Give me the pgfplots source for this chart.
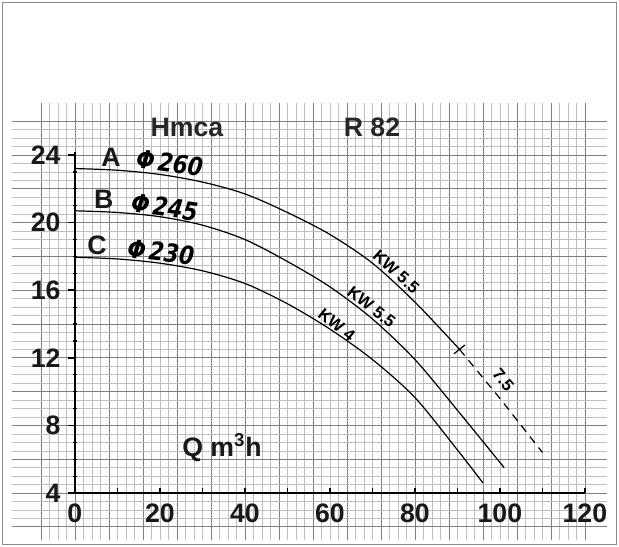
\documentclass[border=0pt]{standalone}
\usepackage{fontspec}
\setmainfont{Liberation Sans}
\newfontfamily\phifont{DejaVu Sans}
\usepackage{graphicx}
\usepackage{pgfplots}
\pgfplotsset{compat=1.18}
\newcommand{\bigfont}{\fontsize{20}{20}\selectfont\bfseries}
\newcommand{\kwfont}{\fontsize{12.5}{12.5}\selectfont\bfseries}
\newcommand{\phitxt}[1]{\scalebox{0.85}[1]{\fontsize{19}{19}\selectfont\phifont\bfseries\itshape\,Φ\,#1}}
\begin{document}
\begin{tikzpicture}[x=0.75pt,y=0.75pt]
\path[use as bounding box] (-12,-7) rectangle (607,540);
\draw[black!45, line width=0.75pt] (-9,-5) rectangle (604,537);
\begin{axis}[
  at={(0,0)}, anchor=south west,
  x=3.1875pt, y=12.675pt,
  xmin=-14.8, xmax=125.2, ymin=1.22, ymax=27.08,
  axis line style={draw=none},
  xtick={-8,0,...,120}, ytick={2,4,...,26},
  minor x tick num=3, minor y tick num=3,
  xticklabels={}, yticklabels={},
  major tick length=0pt, minor tick length=0pt,
  grid=both,
  major grid style={black!50, line width=0.55pt},
  minor grid style={black!25, line width=0.35pt},
  clip=false,
]
% axes
\addplot[black, line width=1.8pt] coordinates {(0,4) (120,4)};
\addplot[black, line width=1.8pt] coordinates {(0,4) (0,24.15)};
\pgfplotsinvokeforeach{10,20,...,120}{\draw[black, line width=1pt] (axis cs:#1,4) -- ++(0pt,4pt);}
\pgfplotsinvokeforeach{5,6,7,9,10,11,13,14,15,17,18,19,21,22,23}{\draw[black, line width=0.9pt] (axis cs:0,#1) ++(-1.5pt,0pt) -- ++(3pt,0pt);}
\pgfplotsinvokeforeach{4,8,...,24}{\draw[black, line width=1.2pt] (axis cs:0,#1) -- ++(-5pt,0pt);}
\pgfplotsinvokeforeach{0,20,...,120}{\node[font=\bigfont, text=black!90, anchor=center] at (axis cs:#1,2.78) {#1};}
\pgfplotsinvokeforeach{4,8,...,24}{\node[font=\bigfont, text=black!90, anchor=east] at (axis cs:-2.3,#1) {#1};}

% curves
\addplot[black, line width=0.9pt, smooth] coordinates {
 (0,23.2) (10,23.1) (20,22.85) (30,22.4) (40,21.7) (50,20.6) (60,19.3) (70,17.6) (80,15.3) (90.5,12.5)};
\addplot[black, line width=0.9pt, dash pattern=on 6pt off 4.5pt] coordinates {
 (90.5,12.5) (100,9.6) (110,6.4)};
\addplot[black, line width=0.9pt] coordinates {(89.2,12.24) (91.8,12.76)};
\addplot[black, line width=0.9pt, smooth] coordinates {
 (0,20.7) (10,20.6) (20,20.35) (30,19.85) (40,19.0) (50,17.7) (60,16.2) (70,14.3) (80,11.9) (90,8.9) (101,5.5)};
\addplot[black, line width=0.9pt, smooth] coordinates {
 (0,17.95) (10,17.85) (20,17.6) (30,17.15) (40,16.4) (50,15.2) (60,13.7) (70,11.9) (80,9.65) (90,6.55) (96,4.6)};

% texts
\node[font=\bigfont, text=black!85] at (axis cs:26.35,25.66) {Hmca};
\node[font=\bigfont, text=black!85] at (axis cs:69.9,25.66) {R 82};
\node[font=\bigfont, text=black!90] at (axis cs:34.6,6.66) {Q m\textsuperscript{3}h};
\node[font=\bigfont, text=black!90] at (axis cs:8.47,23.88) {A};
\node[font=\bigfont, text=black!90] at (axis cs:6.8,21.4) {B};
\node[font=\bigfont, text=black!90] at (axis cs:5.2,18.67) {C};
\node[rotate=-8, text=black] at (axis cs:21.9,23.53) {\phitxt{260}};
\node[rotate=-8, text=black] at (axis cs:20.7,20.92) {\phitxt{245}};
\node[rotate=-7, text=black] at (axis cs:19.8,18.26) {\phitxt{230}};
\node[font=\kwfont, rotate=-42, inner sep=0pt] at (axis cs:75.6,17.1) {KW 5.5};
\node[font=\kwfont, rotate=-38, inner sep=0pt] at (axis cs:69.8,15.0) {KW 5.5};
\node[font=\kwfont, rotate=-39, inner sep=0pt] at (axis cs:61.6,13.94) {KW 4};
\node[font=\kwfont, rotate=-50, inner sep=0pt] at (axis cs:100.8,10.7) {7.5};
\end{axis}
\end{tikzpicture}
\end{document}
